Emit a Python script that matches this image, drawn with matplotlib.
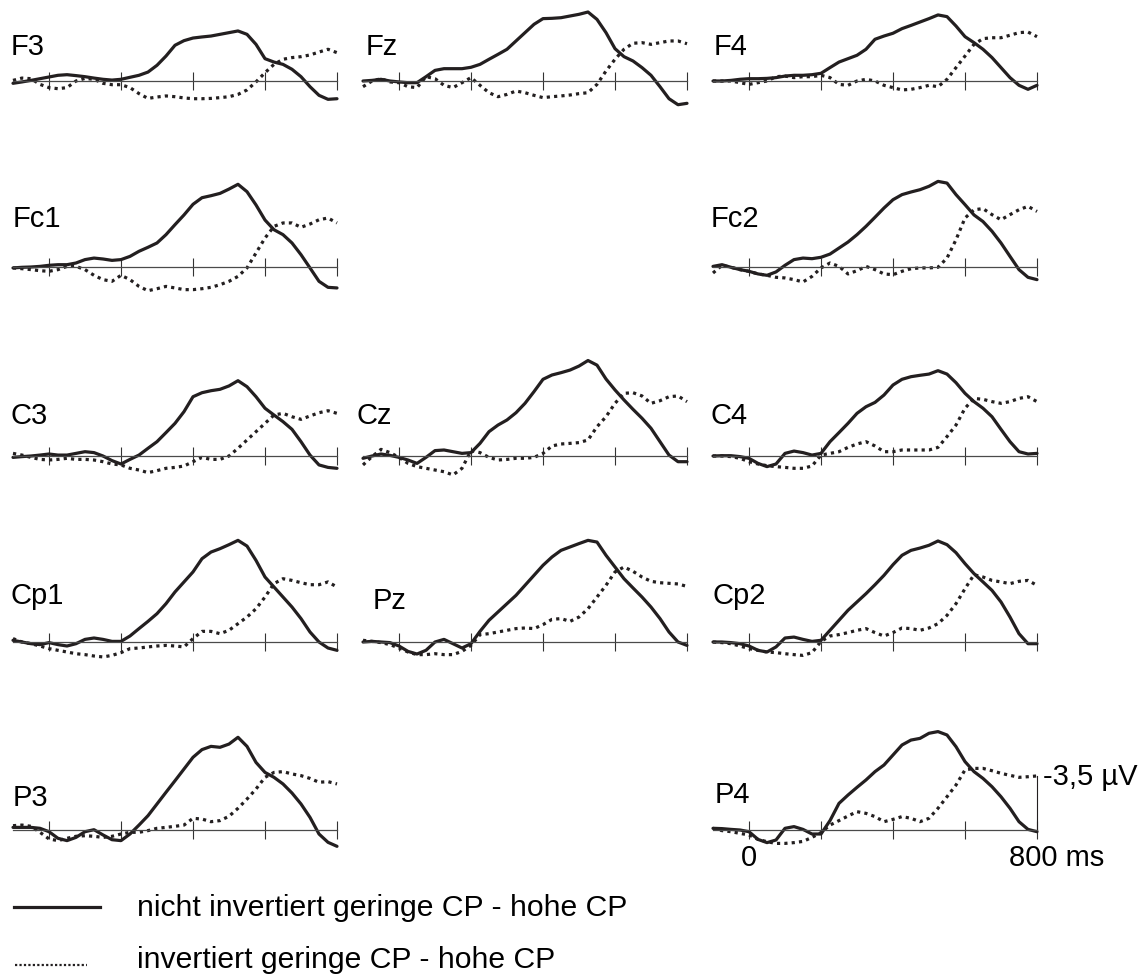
import matplotlib
matplotlib.use('Agg')
import matplotlib.pyplot as plt
from matplotlib.lines import Line2D

plt.rcParams['font.family'] = ['Liberation Sans', 'DejaVu Sans']

# time axis (ms) and amplitudes (uV, negative is drawn upwards)
time_ms = [-100, -75, -50, -25, 0, 25, 50, 75, 100, 125, 150, 175, 200, 225, 250, 275, 300, 325, 350,
           375, 400, 425, 450, 475, 500, 525, 550, 575, 600, 625, 650, 675, 700, 725, 750, 775, 800]

F3_solid = [0.15, 0.06, -0.04, -0.15, -0.26, -0.37, -0.41, -0.35, -0.28, -0.19, -0.11, -0.06, -0.11, -0.24, -0.37, -0.58, -1.02, -1.62, -2.32,
            -2.62, -2.79, -2.86, -2.92, -3.03, -3.14, -3.25, -3.03, -2.38, -1.45, -1.23, -1.08, -0.76, -0.28, 0.37, 0.93, 1.19, 1.15]
F3_dot = [-0.04, -0.19, -0.15, 0.22, 0.43, 0.50, 0.43, 0.0, -0.17, -0.11, 0.15, 0.24, 0.24, 0.43, 0.82, 1.13, 1.04, 0.97, 1.02,
          1.10, 1.15, 1.15, 1.13, 1.08, 1.02, 0.87, 0.58, 0.06, -0.54, -1.08, -1.41, -1.52, -1.58, -1.69, -1.88, -2.06, -1.84]
Fz_solid = [0.0, -0.04, -0.11, 0.0, 0.06, 0.11, 0.11, -0.28, -0.69, -0.80, -0.80, -0.80, -0.89, -1.08, -1.41, -1.73, -2.06, -2.60, -3.14,
            -3.68, -4.05, -4.07, -4.11, -4.22, -4.33, -4.48, -4.00, -3.14, -2.10, -1.58, -1.30, -0.87, -0.37, 0.37, 1.15, 1.54, 1.45]
Fz_dot = [0.37, 0.0, -0.15, 0.06, 0.11, 0.37, 0.43, -0.28, -0.15, 0.28, 0.43, 0.11, -0.22, 0.28, 0.76, 1.02, 0.87, 0.65, 0.76,
          0.93, 1.08, 1.02, 0.97, 0.91, 0.82, 0.76, 0.22, -0.65, -1.41, -2.06, -2.45, -2.49, -2.38, -2.49, -2.60, -2.60, -2.42]
F4_solid = [0.0, 0.0, -0.04, -0.11, -0.15, -0.15, -0.17, -0.22, -0.32, -0.37, -0.37, -0.41, -0.50, -0.87, -1.23, -1.45, -1.67, -2.06, -2.71,
            -2.92, -3.10, -3.40, -3.61, -3.83, -4.05, -4.29, -4.18, -3.57, -2.88, -2.49, -2.06, -1.52, -0.87, -0.22, 0.28, 0.54, 0.28]
F4_dot = [0.0, 0.0, 0.0, 0.11, 0.22, 0.11, 0.0, -0.28, -0.32, -0.22, -0.28, -0.28, -0.37, -0.22, 0.22, 0.28, 0.0, -0.11, 0.0,
          0.28, 0.43, 0.58, 0.54, 0.43, 0.28, 0.37, -0.11, -0.87, -1.62, -2.38, -2.75, -2.81, -2.81, -2.97, -3.14, -3.18, -2.88]
Fc1_solid = [0.06, 0.02, 0.0, -0.04, -0.11, -0.15, -0.15, -0.26, -0.48, -0.58, -0.52, -0.43, -0.48, -0.69, -1.02, -1.28, -1.56, -2.10, -2.75,
             -3.38, -4.07, -4.50, -4.63, -4.78, -5.06, -5.37, -4.89, -4.03, -3.05, -2.42, -2.10, -1.56, -0.80, 0.06, 0.93, 1.32, 1.36]
Fc1_dot = [0.06, 0.11, 0.17, 0.24, 0.28, 0.17, -0.04, -0.04, 0.17, 0.54, 0.82, 0.93, 0.54, 0.82, 1.26, 1.54, 1.41, 1.26, 1.36,
           1.47, 1.47, 1.41, 1.32, 1.15, 0.93, 0.61, 0.06, -0.91, -1.88, -2.64, -2.86, -2.86, -2.58, -2.79, -3.07, -3.18, -2.86]
Fc2_solid = [-0.04, -0.15, 0.02, 0.17, 0.28, 0.45, 0.54, 0.32, -0.11, -0.48, -0.58, -0.54, -0.63, -0.84, -1.23, -1.62, -2.10, -2.64, -3.23,
             -3.83, -4.37, -4.70, -4.87, -5.02, -5.24, -5.56, -5.45, -4.70, -4.05, -3.38, -2.95, -2.32, -1.56, -0.69, 0.17, 0.67, 0.82]
Fc2_dot = [0.39, -0.11, 0.02, 0.17, 0.28, 0.45, 0.54, 0.67, 0.71, 0.82, 0.97, 0.61, 0.06, -0.26, -0.04, 0.45, 0.24, -0.04, 0.17,
           0.45, 0.50, 0.28, 0.11, 0.06, 0.06, 0.02, -0.58, -1.77, -3.18, -3.72, -3.79, -3.40, -3.07, -3.40, -3.72, -3.94, -3.61]
C3_solid = [0.09, 0.04, 0.0, -0.06, -0.13, -0.06, -0.06, -0.17, -0.28, -0.22, 0.0, 0.30, 0.52, 0.22, -0.06, -0.50, -0.93, -1.52, -2.12,
            -2.88, -3.85, -4.11, -4.24, -4.33, -4.55, -4.89, -4.50, -3.85, -3.10, -2.66, -2.23, -1.73, -0.93, -0.06, 0.58, 0.74, 0.80]
C3_dot = [-0.17, -0.06, 0.09, 0.22, 0.26, 0.22, 0.15, 0.22, 0.22, 0.26, 0.37, 0.52, 0.58, 0.80, 0.91, 1.08, 0.95, 0.80, 0.74,
          0.65, 0.37, 0.09, 0.22, 0.22, 0.0, -0.50, -1.04, -1.58, -2.12, -2.66, -2.77, -2.55, -2.38, -2.60, -2.81, -2.94, -2.77]
Cz_solid = [0.15, 0.0, -0.13, -0.04, 0.09, 0.26, 0.48, 0.09, -0.35, -0.39, -0.28, -0.17, -0.22, -0.82, -1.58, -2.01, -2.34, -2.81, -3.42,
            -4.18, -4.98, -5.26, -5.41, -5.58, -5.84, -6.20, -5.90, -5.00, -4.29, -3.64, -3.03, -2.45, -1.80, -0.93, -0.06, 0.37, 0.37]
Cz_dot = [0.58, 0.04, -0.43, -0.22, 0.09, 0.48, 0.69, 0.80, 0.91, 1.02, 1.23, 0.80, -0.35, -0.22, 0.09, 0.26, 0.22, 0.15, 0.15,
          0.09, -0.17, -0.65, -0.78, -0.82, -0.87, -1.04, -1.90, -2.55, -3.42, -4.07, -4.11, -3.90, -3.42, -3.59, -3.85, -3.90, -3.53]
C4_solid = [0.0, -0.02, -0.02, 0.04, 0.15, 0.48, 0.69, 0.52, -0.17, -0.32, -0.22, -0.06, -0.17, -0.93, -1.52, -2.12, -2.77, -3.20, -3.48,
            -3.96, -4.61, -4.98, -5.15, -5.24, -5.32, -5.54, -5.32, -4.76, -4.07, -3.53, -3.10, -2.55, -1.73, -0.93, -0.28, -0.13, -0.17]
C4_dot = [0.0, 0.0, 0.04, 0.15, 0.37, 0.52, 0.63, 0.69, 0.74, 0.80, 0.80, 0.65, -0.06, -0.17, -0.28, -0.56, -0.78, -0.93, -0.65,
          -0.28, -0.28, -0.39, -0.39, -0.39, -0.39, -0.56, -1.26, -2.01, -3.10, -3.74, -3.68, -3.53, -3.42, -3.53, -3.74, -3.85, -3.53]
Cp1_solid = [-0.11, 0.0, 0.11, 0.17, 0.04, 0.17, 0.26, 0.11, -0.17, -0.26, -0.17, -0.04, -0.04, -0.39, -0.87, -1.34, -1.84, -2.49, -3.25,
             -3.90, -4.55, -5.41, -5.84, -6.06, -6.32, -6.60, -6.23, -5.30, -4.22, -3.57, -2.92, -2.27, -1.52, -0.65, 0.0, 0.39, 0.54]
Cp1_dot = [-0.22, 0.0, 0.11, 0.26, 0.43, 0.54, 0.65, 0.76, 0.82, 0.91, 0.97, 0.87, 0.69, 0.43, 0.39, 0.32, 0.26, 0.22, 0.26,
           0.32, -0.22, -0.69, -0.69, -0.54, -0.76, -1.19, -1.62, -2.16, -2.92, -3.79, -4.11, -4.00, -3.85, -3.72, -3.72, -3.90, -3.57]
Pz_solid = [0.0, -0.04, 0.0, 0.04, 0.26, 0.61, 0.78, 0.54, 0.0, -0.17, 0.11, 0.39, 0.11, -0.69, -1.41, -1.95, -2.49, -3.03, -3.68,
            -4.33, -4.98, -5.52, -5.95, -6.17, -6.39, -6.60, -6.49, -5.63, -4.87, -4.11, -3.51, -2.92, -2.27, -1.52, -0.65, 0.0, 0.22]
Pz_dot = [-0.11, -0.04, 0.04, 0.17, 0.39, 0.65, 0.82, 0.82, 0.76, 0.82, 0.82, 0.61, 0.22, -0.48, -0.54, -0.65, -0.76, -0.87, -0.91,
          -0.87, -1.13, -1.47, -1.52, -1.34, -1.62, -2.16, -2.92, -3.68, -4.55, -4.87, -4.59, -4.22, -3.94, -3.85, -3.81, -3.77, -3.61]
Cp2_solid = [0.0, 0.0, 0.04, 0.11, 0.26, 0.54, 0.65, 0.32, -0.26, -0.32, -0.17, -0.04, -0.11, -0.76, -1.41, -2.06, -2.60, -3.14, -3.72,
             -4.33, -5.02, -5.63, -5.95, -6.10, -6.28, -6.56, -6.32, -5.80, -5.09, -4.44, -3.90, -3.35, -2.60, -1.62, -0.54, 0.11, 0.11]
Cp2_dot = [0.0, 0.04, 0.11, 0.26, 0.43, 0.54, 0.65, 0.69, 0.76, 0.82, 0.87, 0.69, -0.04, -0.39, -0.48, -0.61, -0.76, -0.87, -0.61,
           -0.39, -0.61, -0.91, -0.87, -0.76, -0.91, -1.19, -1.73, -2.49, -3.46, -4.37, -4.22, -4.00, -3.90, -3.79, -3.94, -4.00, -3.68]
P3_solid = [-0.17, -0.17, -0.17, -0.11, 0.11, 0.54, 0.69, 0.48, 0.11, -0.02, 0.32, 0.63, 0.69, 0.26, -0.32, -0.93, -1.69, -2.45, -3.20,
            -3.96, -4.72, -5.22, -5.43, -5.37, -5.58, -6.02, -5.43, -4.39, -3.74, -3.42, -2.99, -2.40, -1.69, -0.82, 0.26, 0.80, 1.06]
P3_dot = [-0.28, -0.32, -0.24, 0.15, 0.58, 0.69, 0.54, 0.41, 0.37, 0.41, 0.48, 0.41, 0.26, 0.15, 0.15, 0.04, -0.11, -0.17, -0.24,
          -0.32, -0.76, -0.71, -0.54, -0.61, -0.89, -1.41, -2.01, -2.66, -3.42, -3.74, -3.79, -3.64, -3.53, -3.35, -3.10, -3.14, -2.99]
P4_solid = [-0.11, -0.09, -0.04, 0.0, 0.11, 0.61, 0.82, 0.65, -0.11, -0.22, -0.04, 0.26, 0.26, -0.61, -1.73, -2.27, -2.77, -3.25, -3.79,
            -4.22, -4.87, -5.52, -5.84, -5.95, -6.28, -6.39, -6.17, -5.41, -4.44, -3.79, -3.35, -2.81, -2.16, -1.41, -0.54, -0.04, 0.11]
P4_dot = [-0.11, 0.04, 0.11, 0.22, 0.32, 0.61, 0.76, 0.87, 0.87, 0.82, 0.74, 0.48, 0.17, -0.32, -0.61, -0.91, -1.19, -1.08, -0.87,
          -0.54, -0.69, -0.87, -0.76, -0.54, -0.76, -1.41, -2.16, -2.92, -3.90, -4.00, -4.00, -3.85, -3.68, -3.55, -3.42, -3.46, -3.51]

# electrode name, grid row, grid col, solid, dotted
panels = [
    ('F3', 0, 0, F3_solid, F3_dot), ('Fz', 0, 1, Fz_solid, Fz_dot), ('F4', 0, 2, F4_solid, F4_dot),
    ('Fc1', 1, 0, Fc1_solid, Fc1_dot), ('Fc2', 1, 2, Fc2_solid, Fc2_dot),
    ('C3', 2, 0, C3_solid, C3_dot), ('Cz', 2, 1, Cz_solid, Cz_dot), ('C4', 2, 2, C4_solid, C4_dot),
    ('Cp1', 3, 0, Cp1_solid, Cp1_dot), ('Pz', 3, 1, Pz_solid, Pz_dot), ('Cp2', 3, 2, Cp2_solid, Cp2_dot),
    ('P3', 4, 0, P3_solid, P3_dot), ('P4', 4, 2, P4_solid, P4_dot),
]
# label position in pixels (left, text baseline)
label_pos = {
    'F3': (11, 55), 'Fz': (366, 55), 'F4': (714, 55),
    'Fc1': (13, 227), 'Fc2': (711, 227),
    'C3': (11, 424), 'Cz': (357, 424), 'C4': (710, 424),
    'Cp1': (11, 604), 'Pz': (373, 609), 'Cp2': (713, 604),
    'P3': (13, 806), 'P4': (715, 803),
}
ticks_ms = [0, 200, 400, 600, 800]
scale_uv = -3.5

W, H = 1144, 978
fig = plt.figure(figsize=(W / 100, H / 100), dpi=100)
fig.patch.set_facecolor('white')

col_left = [13, 363, 713]
row_base = [82, 268, 457, 643, 831]
PX_MS = 0.36
PX_UV = 15.4
YTOP, YBOT = -7.0, 2.0
ink = '#231f20'
FS = 21

for name, r, c, solid, dot in panels:
    left = col_left[c]
    base = row_base[r]
    bottom_px = base + YBOT * PX_UV
    ax = fig.add_axes([left / W, 1 - bottom_px / H, 900 * PX_MS / W, (YBOT - YTOP) * PX_UV / H])
    ax.set_xlim(-100, 800)
    ax.set_ylim(YBOT, YTOP)
    ax.patch.set_alpha(0)
    for s in ['top', 'left', 'right']:
        ax.spines[s].set_visible(False)
    ax.spines['bottom'].set_position(('data', 0))
    ax.spines['bottom'].set_color('#4a4a4a')
    ax.spines['bottom'].set_linewidth(0.9)
    ax.set_yticks([])
    ax.set_xticks(ticks_ms)
    ax.tick_params(axis='x', direction='inout', length=12.5, width=0.8, color='#333333', labelbottom=False)

    ax.plot(time_ms, solid, color=ink, lw=2.3, solid_joinstyle='round', solid_capstyle='round', clip_on=False)
    ax.plot(time_ms, dot, color=ink, lw=2.3, linestyle=(0, (1, 1.3)), clip_on=False)

    lx, ly = label_pos[name]
    fig.text(lx / W, 1 - ly / H, name, ha='left', va='baseline', fontsize=FS, color='black')

    if name == 'P4':
        ax.plot([800, 800], [0, scale_uv], color=ink, lw=0.8, clip_on=False)
        ax.text(818, scale_uv, '-3,5 µV', ha='left', va='center', fontsize=FS, color='black')
        ax.text(0, 1.75, '0', ha='center', va='center', fontsize=FS, color='black')
        ax.text(722, 1.75, '800 ms', ha='left', va='center', fontsize=FS, color='black')

# legend
fig.add_artist(Line2D([14 / W, 100 / W], [1 - 908 / H, 1 - 908 / H], color=ink, lw=2.3))
fig.add_artist(Line2D([15 / W, 87 / W], [1 - 966 / H, 1 - 966 / H], color=ink, lw=1.6, linestyle=(0, (1, 1))))
fig.text(137 / W, 1 - 916 / H, 'nicht invertiert geringe CP - hohe CP', ha='left', va='baseline', fontsize=21.7, color='black')
fig.text(137 / W, 1 - 968 / H, 'invertiert geringe CP - hohe CP', ha='left', va='baseline', fontsize=21.7, color='black')

fig.savefig('out.png', dpi=100, facecolor='white')
